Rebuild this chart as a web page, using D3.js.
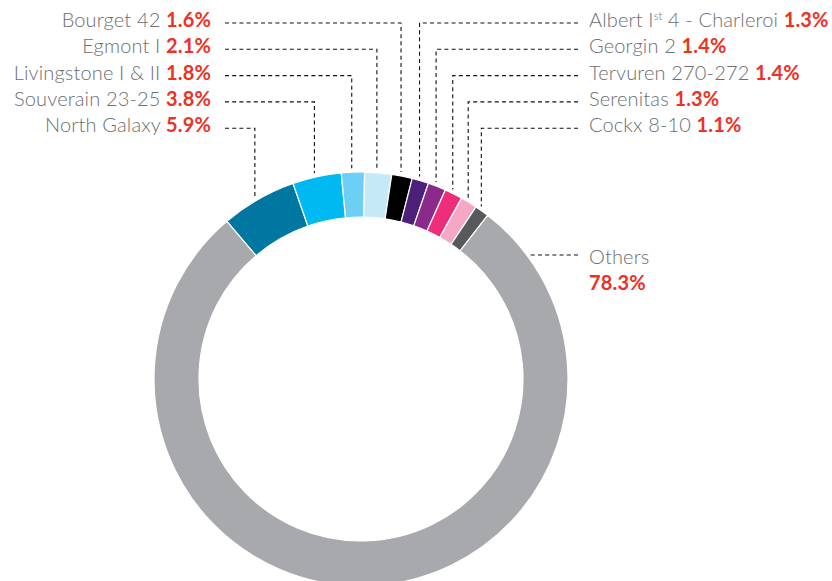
<!DOCTYPE html>
<html>
<head>
<meta charset="utf-8">
<script src="https://cdn.jsdelivr.net/npm/d3@7"></script>
<style>
  body { margin: 0; background: #fff; }
  text { font-family: Lato, "Open Sans", sans-serif; }
</style>
</head>
<body>
<div id="container"></div>
<script>
let w = 832;
let h = 581;

// data, in drawing order (clockwise from the left end of the coloured block)
let names = ['North Galaxy', 'Souverain 23-25', 'Livingstone I & II', 'Egmont I', 'Bourget 42',
  'Albert Ist 4 - Charleroi', 'Georgin 2', 'Tervuren 270-272', 'Serenitas', 'Cockx 8-10', 'Others'];
let shares = [5.9, 3.8, 1.8, 2.1, 1.6, 1.3, 1.4, 1.4, 1.3, 1.1, 78.3];
let colors = ['#0077a1', '#00b9f0', '#6dcff6', '#c6e9f8', '#000000',
  '#4b1f7a', '#8c2a8b', '#ee2d7b', '#f5a7c5', '#58595b', '#a7a9ac'];

// which labels sit in the left column and which in the right, top to bottom
let leftLabels = ['Bourget 42', 'Egmont I', 'Livingstone I & II', 'Souverain 23-25', 'North Galaxy'];
let rightLabels = ['Albert Ist 4 - Charleroi', 'Georgin 2', 'Tervuren 270-272', 'Serenitas', 'Cockx 8-10'];

let grey = '#6d6e71';
let red = '#ee3124';

let cx = 361, cy = 379;
let outerR = 207, innerR = 162;

let svg = d3.select('#container')
  .append('svg')
    .attr('width', w)
    .attr('height', h);

let data = names.map((n, i) => ({ name: n, value: shares[i], color: colors[i] }));

let start = -40.4 * Math.PI / 180;
let pie = d3.pie()
  .value(d => d.value)
  .sort(null)
  .startAngle(start)
  .endAngle(start + 2 * Math.PI);

let arcs = pie(data);

let arc = d3.arc()
  .innerRadius(innerR)
  .outerRadius(outerR);

let ring = svg.append('g')
  .attr('transform', 'translate(' + cx + ',' + cy + ')');

ring.selectAll('path')
  .data(arcs)
  .enter()
  .append('path')
    .attr('d', arc)
    .attr('fill', d => d.data.color)
    .attr('stroke', '#fff')
    .attr('stroke-width', 1.2);

// rows of labels
let rowY = d3.scaleLinear().domain([0, 1]).range([23, 49.3]);
let leftTextX = 211;
let leftDashX = 225;
let rightTextX = 589;
let rightDashX = 578;

let byName = {};
arcs.forEach(a => { byName[a.data.name] = a; });

// leader lines meet the slice a bit before its middle
function anchorX(a) {
  let m = a.startAngle + (a.endAngle - a.startAngle) * 0.45;
  return cx + outerR * Math.sin(m);
}

function arcTopY(x) {
  return cy - Math.sqrt(outerR * outerR - (x - cx) * (x - cx));
}

let leaders = svg.append('g')
  .attr('fill', 'none')
  .attr('stroke', '#111')
  .attr('stroke-width', 1.1)
  .attr('stroke-dasharray', '4,3.2');

function addLabel(name, i, side) {
  let a = byName[name];
  let y = rowY(i);
  let x = anchorX(a);
  let bottom = arcTopY(x) - 4;
  if (side == 'left') {
    leaders.append('path')
      .attr('d', 'M' + leftDashX + ',' + y + 'H' + x + 'V' + bottom);
  } else {
    leaders.append('path')
      .attr('d', 'M' + rightDashX + ',' + y + 'H' + x + 'V' + bottom);
  }

  let t = svg.append('text')
    .attr('x', side == 'left' ? leftTextX : rightTextX)
    .attr('y', y + 4)
    .attr('text-anchor', side == 'left' ? 'end' : 'start')
    .style('font-size', '20px')
    .style('letter-spacing', '0.15px');

  if (name.indexOf('Ist') >= 0) {
    let parts = name.split('Ist');
    t.append('tspan').attr('fill', grey).attr('font-weight', 300).text(parts[0] + 'I');
    t.append('tspan').attr('fill', grey).attr('font-weight', 300)
      .attr('dy', -7).style('font-size', '11px').text('st');
    t.append('tspan').attr('fill', grey).attr('font-weight', 300)
      .attr('dy', 7).text(parts[1] + ' ');
  } else {
    t.append('tspan').attr('fill', grey).attr('font-weight', 300).text(name + ' ');
  }
  t.append('tspan').attr('fill', red).attr('font-weight', 700).text(a.data.value.toFixed(1) + '%');
}

leftLabels.forEach((n, i) => addLabel(n, i, 'left'));
rightLabels.forEach((n, i) => addLabel(n, i, 'right'));

// Others label
let others = byName['Others'];
let othersY = 255;
leaders.append('path')
  .attr('d', 'M' + (cx + Math.sqrt(outerR * outerR - (othersY - cy) * (othersY - cy)) + 4) + ',' + othersY + 'H' + rightDashX);

svg.append('text')
  .attr('x', rightTextX)
  .attr('y', othersY + 9)
  .attr('fill', grey)
  .attr('font-weight', 300)
  .style('font-size', '20px')
  .style('letter-spacing', '0.15px')
  .text(others.data.name);

svg.append('text')
  .attr('x', rightTextX)
  .attr('y', othersY + 35)
  .attr('fill', red)
  .attr('font-weight', 700)
  .style('font-size', '20px')
  .style('letter-spacing', '0.15px')
  .text(others.data.value.toFixed(1) + '%');
</script>
</body>
</html>
